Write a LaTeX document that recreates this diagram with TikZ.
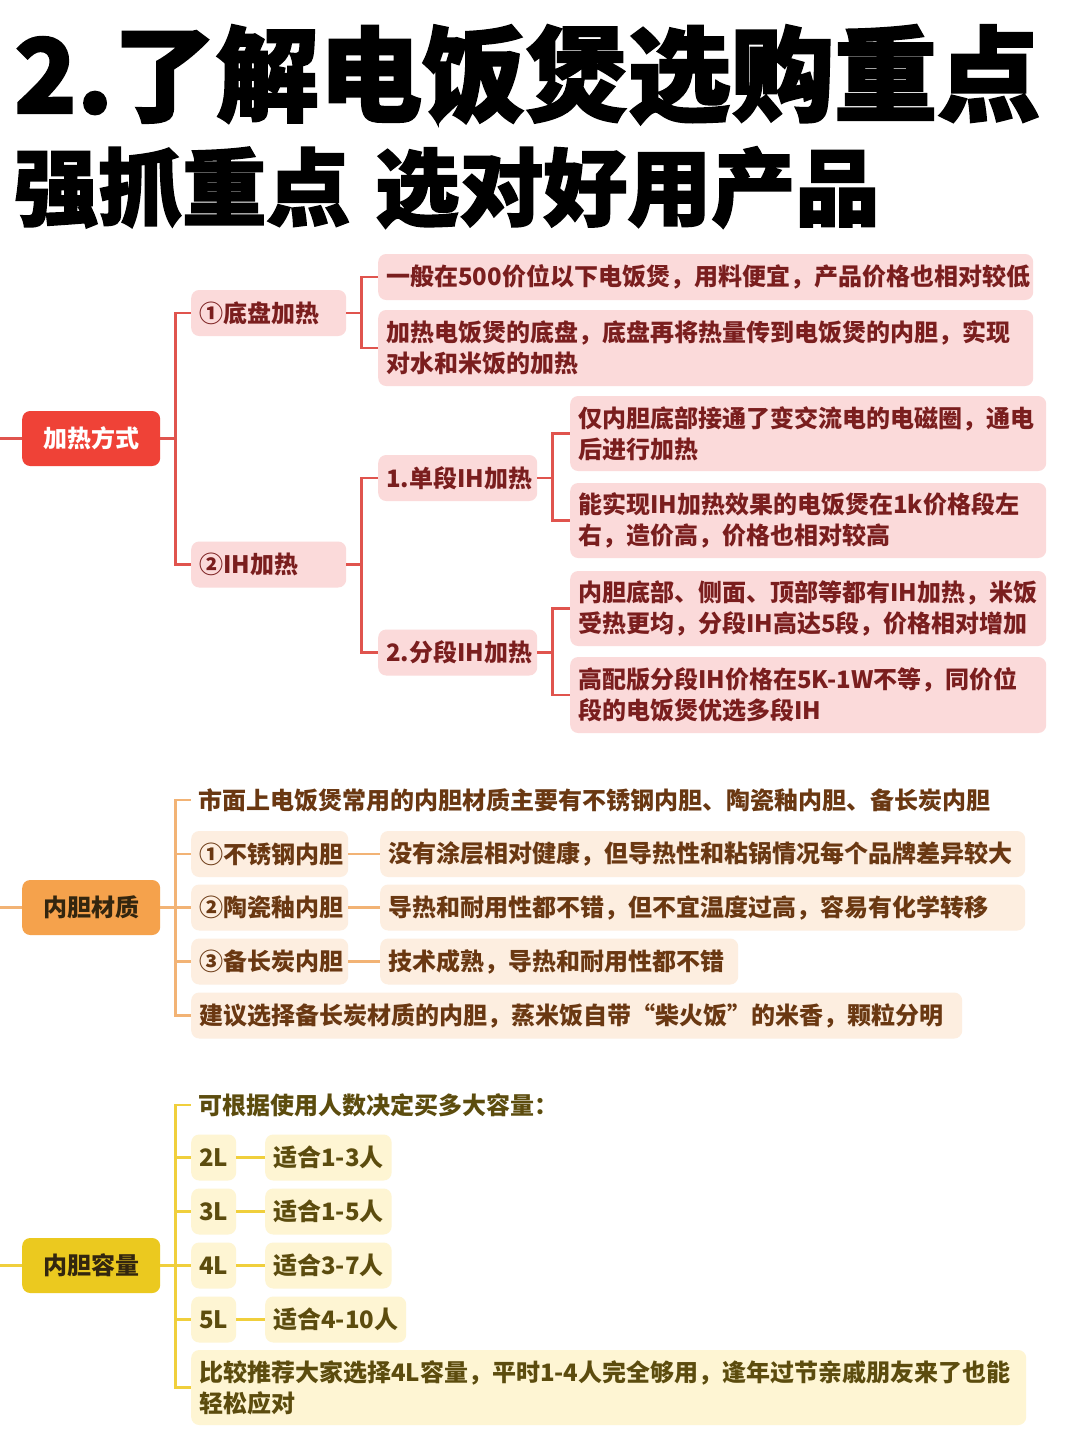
\documentclass[tikz,border=0pt]{standalone}
\usepackage{fontspec}
\setmainfont{Noto Sans CJK SC}
\newfontfamily\titlefont{Noto Sans CJK SC}[BoldFeatures={FakeBold=2}]
\usepackage{xcolor}
\usepackage{tikz}
\usetikzlibrary{positioning,calc}
\definecolor{hotred}{HTML}{EF4237}
\definecolor{redwire}{HTML}{E0544E}
\definecolor{redpale}{HTML}{FBDADA}
\definecolor{redink}{HTML}{7A1E1E}
\definecolor{amber}{HTML}{F5A24C}
\definecolor{amberwire}{HTML}{F2B375}
\definecolor{amberpale}{HTML}{FDEEE0}
\definecolor{amberink}{HTML}{6A3812}
\definecolor{lemon}{HTML}{EBC91F}
\definecolor{lemonwire}{HTML}{F0CF3C}
\definecolor{lemonpale}{HTML}{FEF5D3}
\definecolor{lemonink}{HTML}{5C4C0E}
\definecolor{rootink}{HTML}{33260F}
\tikzset{
  rootbox/.style={
    anchor=west,rounded corners=8pt,inner sep=0pt,
    minimum width=138pt,minimum height=55pt,
    font=\fontsize{24}{31}\selectfont\bfseries
  },
  box/.style={
    anchor=west,rounded corners=8pt,inner xsep=8pt,inner ysep=4pt,
    align=left,minimum height=46pt,
    font=\fontsize{24}{31}\selectfont\bfseries
  },
  plain/.style={
    anchor=west,inner xsep=7pt,inner ysep=2pt,align=left,
    font=\fontsize{24}{31}\selectfont\bfseries
  },
  redbox/.style={box,fill=redpale,text=redink},
  amberbox/.style={box,fill=amberpale,text=amberink},
  lemonbox/.style={box,fill=lemonpale,text=lemonink},
  redlink/.style={draw=redwire,line width=2.6pt},
  amberlink/.style={draw=amberwire,line width=2.6pt},
  lemonlink/.style={draw=lemonwire,line width=2.6pt},
  titletext/.style={anchor=base west,inner sep=0pt,text=black}
}
\begin{document}
\begin{tikzpicture}[x=1pt,y=-1pt]
\useasboundingbox[fill=white] (0,0) rectangle (1080,1440);

% heading
\node[titletext,font=\titlefont\bfseries\fontsize{103}{103}\selectfont] (head) at (14,113) {2.了解电饭煲选购重点};
\node[titletext,font=\titlefont\bfseries\fontsize{84}{84}\selectfont] (subhead) at (14,219) {强抓重点\hspace{0.3em}选对好用产品};

% heating
\coordinate (heatin) at (0,438.5);
\node[rootbox,fill=hotred,text=white] (heat) at (22,438.5) {加热方式};
\node[redbox,text width=139pt] (plate) at (191,313) {①底盘加热};
\node[redbox,text width=139pt] (ih) at (191,564.5) {②IH加热};
\node[redbox,text width=639pt] (platea) at (378,277) {一般在500价位以下电饭煲，用料便宜，产品价格也相对较低};
\node[redbox,text width=639pt,minimum height=76pt] (plateb) at (378,348) {加热电饭煲的底盘，底盘再将热量传到电饭煲的内胆，实现\\对水和米饭的加热};
\node[redbox,text width=143pt] (single) at (378,478) {1.单段IH加热};
\node[redbox,text width=143pt] (multi) at (378,652.5) {2.分段IH加热};
\node[redbox,text width=460pt,minimum height=75pt] (singlea) at (570,433.5) {仅内胆底部接通了变交流电的电磁圈，通电\\后进行加热};
\node[redbox,text width=460pt,minimum height=75pt] (singleb) at (570,520.5) {能实现IH加热效果的电饭煲在1k价格段左\\右，造价高，价格也相对较高};
\node[redbox,text width=460pt,minimum height=75pt] (multia) at (570,608.5) {内胆底部、侧面、顶部等都有IH加热，米饭\\受热更均，分段IH高达5段，价格相对增加};
\node[redbox,text width=460pt,minimum height=76pt] (multib) at (570,695) {高配版分段IH价格在5K-1W不等，同价位\\段的电饭煲优选多段IH};

\draw[redlink] (heatin) -- (heat.west);
\foreach \c in {plate,ih} \draw[redlink] (heat.east) -- ++(15,0) |- (\c.west);
\foreach \c in {platea,plateb} \draw[redlink] (plate.east) -- ++(15,0) |- (\c.west);
\foreach \c in {single,multi} \draw[redlink] (ih.east) -- ++(15,0) |- (\c.west);
\foreach \c in {singlea,singleb} \draw[redlink] (single.east) -- ++(15,0) |- (\c.west);
\foreach \c in {multia,multib} \draw[redlink] (multi.east) -- ++(15,0) |- (\c.west);

% liner material
\coordinate (linerin) at (0,907.5);
\node[rootbox,fill=amber,text=rootink] (liner) at (22,907.5) {内胆材质};
\node[plain,text=amberink] (market) at (191,800) {市面上电饭煲常用的内胆材质主要有不锈钢内胆、陶瓷釉内胆、备长炭内胆};
\node[amberbox,text width=141pt] (steel) at (191,854) {①不锈钢内胆};
\node[amberbox,text width=141pt] (glaze) at (191,907.5) {②陶瓷釉内胆};
\node[amberbox,text width=141pt] (carbon) at (191,961.5) {③备长炭内胆};
\node[amberbox,text width=629pt] (steelx) at (380,854) {没有涂层相对健康，但导热性和粘锅情况每个品牌差异较大};
\node[amberbox,text width=629pt] (glazex) at (380,907.5) {导热和耐用性都不错，但不宜温度过高，容易有化学转移};
\node[amberbox,text width=342pt] (carbonx) at (380,961.5) {技术成熟，导热和耐用性都不错};
\node[amberbox,text width=755pt] (advice) at (191,1015.5) {建议选择备长炭材质的内胆，蒸米饭自带“柴火饭”的米香，颗粒分明};

\draw[amberlink] (linerin) -- (liner.west);
\foreach \c in {market,steel,glaze,carbon,advice} \draw[amberlink] (liner.east) -- ++(15,0) |- (\c.west);
\draw[amberlink] (steel.east) -- (steelx.west);
\draw[amberlink] (glaze.east) -- (glazex.west);
\draw[amberlink] (carbon.east) -- (carbonx.west);

% liner capacity
\coordinate (volin) at (0,1265.5);
\node[rootbox,fill=lemon,text=rootink] (vol) at (22,1265.5) {内胆容量};
\node[plain,text=lemonink] (howmany) at (191,1105) {可根据使用人数决定买多大容量：};
\node[lemonbox,minimum width=43pt] (two) at (191,1157.5) {2L};
\node[lemonbox,minimum width=43pt] (three) at (191,1211.5) {3L};
\node[lemonbox,minimum width=43pt] (four) at (191,1265.5) {4L};
\node[lemonbox,minimum width=43pt] (five) at (191,1319.5) {5L};
\node[lemonbox,minimum width=125pt] (twox) at (265,1157.5) {适合1-3人};
\node[lemonbox,minimum width=125pt] (threex) at (265,1211.5) {适合1-5人};
\node[lemonbox,minimum width=125pt] (fourx) at (265,1265.5) {适合3-7人};
\node[lemonbox,minimum width=140pt] (fivex) at (265,1319.5) {适合4-10人};
\node[lemonbox,text width=819pt,minimum height=75pt] (tip) at (191,1387.5) {比较推荐大家选择4L容量，平时1-4人完全够用，逢年过节亲戚朋友来了也能\\轻松应对};

\draw[lemonlink] (volin) -- (vol.west);
\foreach \c in {howmany,two,three,four,five,tip} \draw[lemonlink] (vol.east) -- ++(15,0) |- (\c.west);
\draw[lemonlink] (two.east) -- (twox.west);
\draw[lemonlink] (three.east) -- (threex.west);
\draw[lemonlink] (four.east) -- (fourx.west);
\draw[lemonlink] (five.east) -- (fivex.west);
\end{tikzpicture}
\end{document}
